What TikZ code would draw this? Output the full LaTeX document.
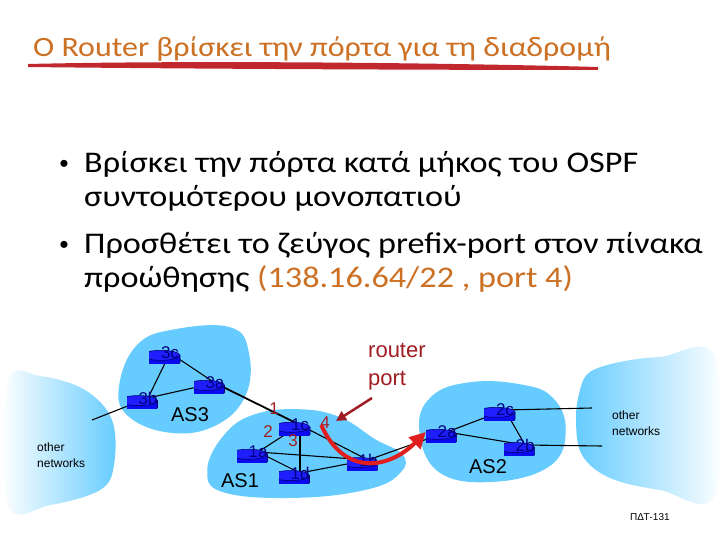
\documentclass[tikz,border=0pt]{standalone}
\usepackage{fontspec}
\setmainfont{Carlito}
\newfontfamily\arialf{Liberation Sans}
\usetikzlibrary{arrows.meta}
\definecolor{titleorange}{RGB}{204,112,36}
\definecolor{blobblue}{RGB}{102,204,255}
\definecolor{rblue}{RGB}{10,10,240}
\definecolor{rtop}{RGB}{30,30,255}
\definecolor{rline}{RGB}{0,0,110}
\definecolor{rtext}{RGB}{0,0,130}
\definecolor{dred}{RGB}{160,30,35}
\definecolor{ared}{RGB}{225,30,30}
\definecolor{ulred}{RGB}{192,40,45}
\pgfdeclarelayer{bg}
\pgfdeclarelayer{blobs}
\pgfdeclarelayer{edges}
\pgfsetlayers{bg,blobs,edges,main}
\newcommand{\stretchtxt}[1]{\scalebox{1.14}[1]{#1}}
\tikzset{
  router/.style={rectangle, minimum width=42pt, minimum height=20pt, inner sep=0pt,
    font=\arialf\fontsize{17}{17}\selectfont, text=rtext,
    path picture={
      \begin{scope}[shift={(path picture bounding box.center)}]
        \filldraw[fill=rblue, draw=rline, line width=0.6pt]
          (-19pt,3.5pt) -- (-19pt,-3.5pt) arc[start angle=180, end angle=360, x radius=19pt, y radius=5pt]
          -- (19pt,3.5pt) -- cycle;
        \filldraw[fill=rtop, draw=rline, line width=0.6pt] (0pt,3.5pt) ellipse[x radius=19pt, y radius=5pt];
      \end{scope}}},
  blob/.style={fill=blobblue, draw=blobblue, line width=1.5pt},
  link/.style={black, line width=1.1pt},
  txt/.style={anchor=base west, inner sep=0pt},
  slidetxt/.style={txt, font=\fontsize{30}{34}\selectfont, text=black},
  num/.style={inner sep=0pt, font=\arialf\fontsize{17}{17}\selectfont, text=dred},
  aslabel/.style={inner sep=0pt, font=\arialf\fontsize{20}{20}\selectfont, text=black},
  onet/.style={txt, font=\arialf\fontsize{12}{12}\selectfont, text=black},
}
\begin{document}
\begin{tikzpicture}[x=1pt,y=-1pt]
\begin{pgfonlayer}{bg}
\fill[white] (0,0) rectangle (720,540);
\end{pgfonlayer}
\useasboundingbox (0,0) rectangle (720,540);
% title
\node[txt, font=\fontsize{28}{28}\selectfont, text=titleorange] (title) at (33,57) {\stretchtxt{O Router βρίσκει την πόρτα για τη διαδρομή}};
\fill[ulred] (28,64) .. controls (200,60) and (450,63) .. (598,67) -- (598,70) .. controls (450,70) and (200,69) .. (28,67) -- cycle;
% bullets
\node[txt, font=\fontsize{20}{20}\selectfont] (b1) at (59,170) {•};
\node[slidetxt] (l1) at (84,173) {\stretchtxt{Βρίσκει την πόρτα κατά μήκος του OSPF}};
\node[slidetxt] (l2) at (84,207) {\stretchtxt{συντομότερου μονοπατιού}};
\node[txt, font=\fontsize{20}{20}\selectfont] (b2) at (59,250) {•};
\node[slidetxt] (l3) at (84,253) {\stretchtxt{Προσθέτει το ζεύγος prefix-port στον πίνακα}};
\node[slidetxt] (l4) at (84,287) {\stretchtxt{προώθησης \textcolor{titleorange}{(138.16.64/22 , port 4)}}};
% blobs
\begin{pgfonlayer}{blobs}
\shade[left color=white, right color=blobblue, draw=none] plot[smooth cycle, tension=0.6] coordinates {(8,382) (40,376) (85,390) (112,420) (114,465) (100,490) (50,505) (8,505)};
\shade[left color=blobblue, right color=white, draw=none] plot[smooth cycle, tension=0.6] coordinates {(590,372) (620,362) (660,357) (715,357) (715,495) (660,490) (610,478) (582,455) (576,420) (580,390)};
\path[blob] plot[smooth cycle, tension=0.7] coordinates {(138,345) (175,330) (230,328) (248,352) (245,395) (215,425) (170,432) (128,415) (120,385)};
\path[blob] plot[smooth cycle, tension=0.7] coordinates {(208,470) (225,435) (255,415) (300,410) (340,418) (375,440) (402,455) (400,472) (370,488) (300,497) (225,492)};
\path[blob] plot[smooth cycle, tension=0.7] coordinates {(420,430) (432,397) (470,383) (520,385) (552,398) (565,430) (550,465) (495,481) (440,472)};
\end{pgfonlayer}
% routers
\node[router] (r3c) at (170,353) {3c};
\node[router] (r3a) at (215,383) {3a};
\node[router] (r3b) at (148,398) {3b};
\node[router] (r1c) at (300,425) {1c};
\node[router] (r1a) at (258,452) {1a};
\node[router] (r1d) at (300,473) {1d};
\node[router] (r1b) at (368,460) {1b};
\node[router] (r2a) at (447,432) {2a};
\node[router] (r2c) at (505,410) {2c};
\node[router] (r2b) at (525,445) {2b};
\coordinate (onl) at (92,420);
\coordinate (onr1) at (592,408);
\coordinate (onr2) at (602,446);
\begin{pgfonlayer}{edges}
\draw[link] (r3c.center) -- (r3a.center);
\draw[link] (r3c.center) -- (r3b.center);
\draw[link] (r3b.center) -- (r3a.center);
\draw[link] (r3b.center) -- (onl);
\draw[black, line width=1.8pt] (r3a.center) -- (r1c.center);
\draw[link] (r1c.center) -- (r1a.center);
\draw[link] (r1c.center) -- (r1d.center);
\draw[link] (r1c.center) -- (r1b.center);
\draw[link] (r1a.center) -- (r1b.center);
\draw[link] (r1a.center) -- (r1d.center);
\draw[link] (r1d.center) -- (r1b.center);
\draw[link] (r1b.center) -- (r2a.center);
\draw[link] (r2a.center) -- (r2c.center);
\draw[link] (r2a.center) -- (r2b.center);
\draw[link] (r2c.center) -- (r2b.center);
\draw[link] (r2c.center) -- (onr1);
\draw[link] (r2b.center) -- (onr2);
\end{pgfonlayer}
% labels
\node[aslabel] (as3) at (190,415) {AS3};
\node[aslabel] (as1) at (240,481) {AS1};
\node[aslabel] (as2) at (488,467) {AS2};
\node[onet] (o1) at (37,451) {other};
\node[onet] (o2) at (37,467) {networks};
\node[onet] (o3) at (612,419) {other};
\node[onet] (o4) at (612,435) {networks};
\node[num] (n1) at (274,409) {1};
\node[num] (n2) at (268,432) {2};
\node[num] (n3) at (293,441) {3};
\node[num] (n4) at (325,423) {4};
\node[txt, font=\arialf\fontsize{22}{22}\selectfont, text=dred] (rp1) at (368,357) {router};
\node[txt, font=\arialf\fontsize{22}{22}\selectfont, text=dred] (rp2) at (368,385) {port};
\node[txt, font=\arialf\fontsize{10}{10}\selectfont, text=black] (pdt) at (630,520) {ΠΔΤ-131};
% arrows
\coordinate (pa) at (372,398);
\coordinate (pb) at (336,421);
\draw[dred, line width=2.5pt, -{Triangle[length=10pt,width=10pt]}] (pa) -- (pb);
\draw[ared, line width=4pt, -{Triangle[length=16pt,width=16pt]}] (r1c.east) .. controls (345,478) and (390,468) .. (r2a.west);
\end{tikzpicture}
\end{document}
